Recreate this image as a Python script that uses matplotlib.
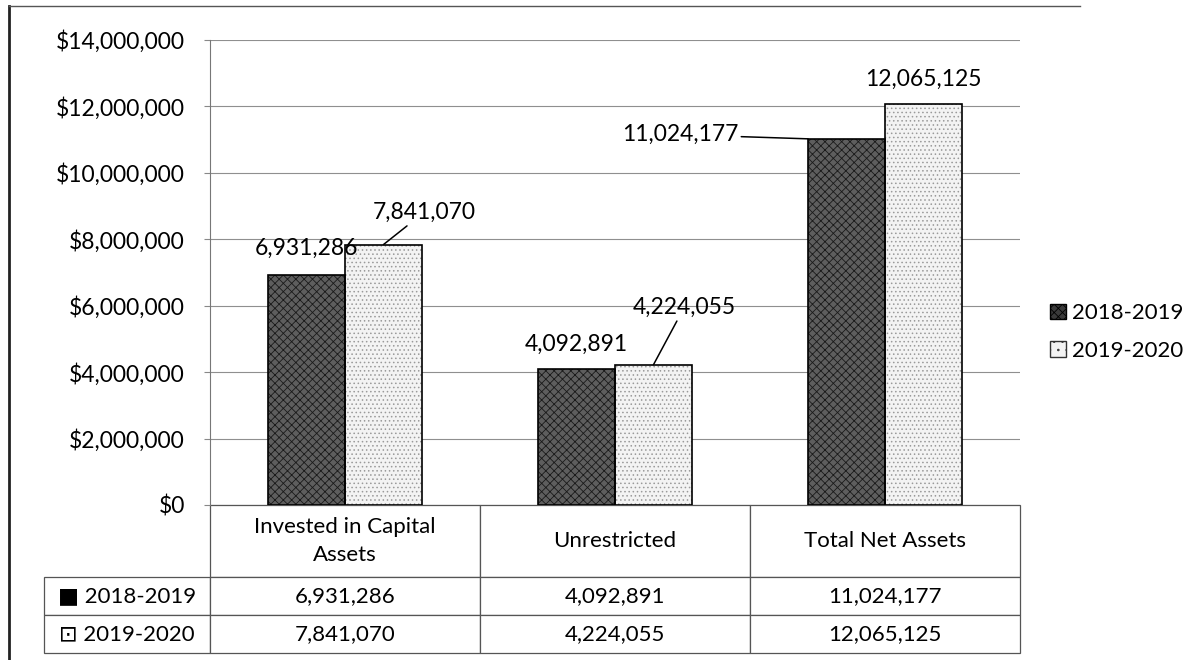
import numpy as np
import matplotlib
matplotlib.use("Agg")
import matplotlib.pyplot as plt
from matplotlib.lines import Line2D
from matplotlib.ticker import FuncFormatter

plt.rcParams['font.family'] = ['Lato', 'DejaVu Sans']
plt.rcParams['hatch.linewidth'] = 0.6

# data
categories = ['Invested in Capital\nAssets', 'Unrestricted', 'Total Net Assets']
series_names = ['2018-2019', '2019-2020']
values_1819 = [6931286, 4092891, 11024177]
values_1920 = [7841070, 4224055, 12065125]
row_keys = ['\u25A0', '\u22A1']

# label offsets (points) from each bar top, and whether a leader line is drawn
offsets_1819 = [(0, 19), (0, 18), (-92, 3)]
offsets_1920 = [(29, 23), (22, 41), (0, 18)]
leader_1819 = [False, False, True]
leader_1920 = [True, True, False]

fig = plt.figure(figsize=(11.98, 6.60), dpi=100)
ax = fig.add_axes([210 / 1198, 1 - 505 / 660, 810 / 1198, 465 / 660])

x = np.arange(len(categories))
w = 0.285

# hatched fill then black outline
ax.bar(x - w / 2, values_1819, w, color='#5e5e5e', hatch='xxxx', edgecolor='#1a1a1a', linewidth=0, zorder=3)
ax.bar(x - w / 2, values_1819, w, fill=False, edgecolor='black', linewidth=1.2, zorder=4)
ax.bar(x + w / 2, values_1920, w, color='#f3f3f3', hatch='....', edgecolor='#9a9a9a', linewidth=0, zorder=3)
ax.bar(x + w / 2, values_1920, w, fill=False, edgecolor='black', linewidth=1.2, zorder=4)

ax.set_xlim(-0.5, 2.5)
ax.set_ylim(0, 14000000)
ax.set_yticks(np.arange(0, 14000001, 2000000))
ax.yaxis.set_major_formatter(FuncFormatter(lambda v, p: '${:,.0f}'.format(v)))
ax.tick_params(axis='y', labelsize=16.5, length=4, color='#888888', pad=14)
ax.set_xticks([])
ax.grid(axis='y', color='#8f8f8f', linewidth=0.8, zorder=0)
for s in ['top', 'right', 'bottom']:
    ax.spines[s].set_visible(False)
ax.spines['left'].set_color('#777777')

# data labels
for xs, vals, offs, leads in [(x - w / 2, values_1819, offsets_1819, leader_1819),
                              (x + w / 2, values_1920, offsets_1920, leader_1920)]:
    for xi, v, off, lead in zip(xs, vals, offs, leads):
        target = (xi - w / 2, v) if off[0] < -50 else (xi, v)
        props = dict(arrowstyle='-', color='black', lw=1.1, shrinkA=0, shrinkB=0) if lead else None
        ax.annotate('{:,}'.format(v), xy=target, xytext=off, textcoords='offset points',
                    ha='center', va='center', fontsize=16.5, arrowprops=props, zorder=5)

# legend
h1 = plt.Rectangle((0, 0), 1, 1, facecolor='#3a3a3a', edgecolor='black', hatch='xxxx')
h2 = plt.Rectangle((0, 0), 1, 1, facecolor='#f3f3f3', edgecolor='#333333', hatch='..')
fig.legend([h1, h2], series_names, loc='center left', bbox_to_anchor=(1030 / 1198, 1 - 332 / 660),
           frameon=False, fontsize=16, handlelength=0.7, handleheight=0.7, handletextpad=0.3,
           labelspacing=0.8)

# data table under the axes; cell sizes in axes units
cell_text = [['{:,}'.format(v) for v in values_1819],
             ['{:,}'.format(v) for v in values_1920]]
row_labels = [k + ' ' + n for k, n in zip(row_keys, series_names)]
tbl = ax.table(cellText=cell_text, rowLabels=row_labels, colLabels=categories,
               cellLoc='center', rowLoc='center', loc='bottom')
tbl.auto_set_font_size(False)
tbl.set_fontsize(16)
for (r, c), cell in tbl.get_celld().items():
    cell.set_edgecolor('#555555')
    cell.set_linewidth(0.9)
    cell.set_height(72 / 465 if r == 0 else 38 / 465)
    cell.set_width(145 / 810 if c == -1 else 1 / 3)
    if r == 0:
        cell.get_text().set_linespacing(1.55)

# outer frame of the original chart
fig.add_artist(Line2D([9 / 1198, 9 / 1198], [0, 1 - 6 / 660], color='#222222', lw=2))
fig.add_artist(Line2D([9 / 1198, 1080 / 1198], [1 - 6 / 660, 1 - 6 / 660], color='#555555', lw=1))

fig.savefig('out.png', dpi=100)
